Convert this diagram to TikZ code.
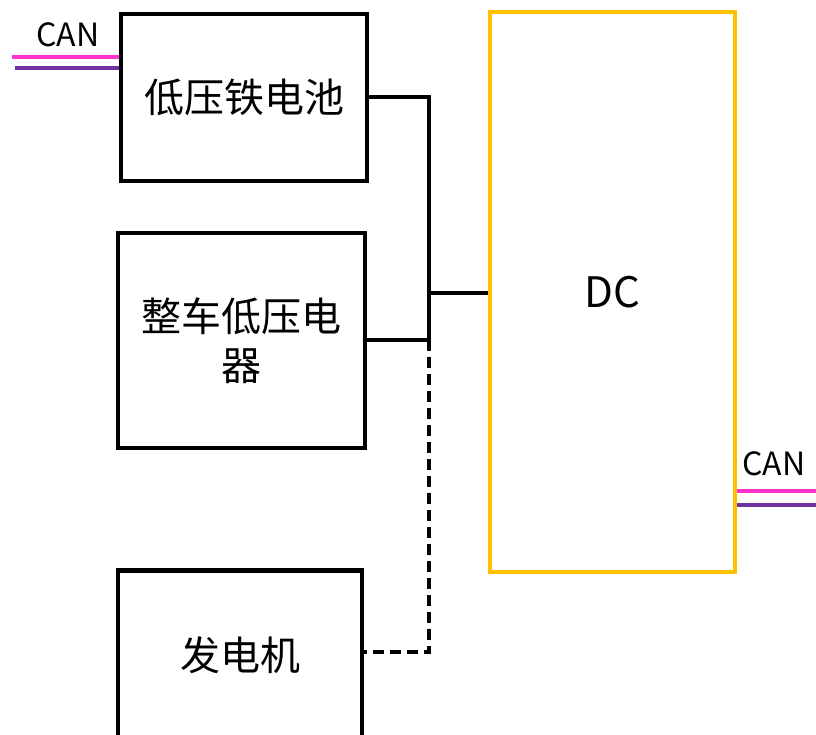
\documentclass[tikz,border=0pt]{standalone}
\usepackage{fontspec}
\setmainfont{Noto Sans CJK SC}
\begin{document}
\begin{tikzpicture}[x=1pt,y=-1pt,
  cjk/.style={font=\fontsize{40}{49}\selectfont},
  blk/.style={draw=black,line width=4.5pt,minimum width=#1,inner sep=0pt,align=center,cjk},
  wire/.style={line width=4pt},
  dwire/.style={line width=4pt,dash pattern=on 11pt off 6pt},
  canp/.style={line width=4pt,draw={rgb,255:red,255;green,51;blue,204}},
  canv/.style={line width=4pt,draw={rgb,255:red,112;green,48;blue,160}},
  lbl/.style={font=\fontsize{32}{34}\selectfont,inner sep=0pt}]
\useasboundingbox (0,0) rectangle (816,734);
\clip (0,0) rectangle (816,734);
% boxes
\node[blk=246pt,minimum height=167pt] (bat) at (244,97.5) {低压铁电池};
\node[blk=247pt,minimum height=215pt] (load) at (241.5,340.5) {整车低压电\\器};
\node[blk=244pt,minimum height=176pt,anchor=north] (gen) at (240,568) {};
\node[cjk] at (240,655) {发电机};
\node[draw={rgb,255:red,255;green,192;blue,0},line width=4.5pt,minimum width=245pt,minimum height=560pt,inner sep=0pt,font=\fontsize{42}{46}\selectfont] (dc) at (612.5,292) {DC};
% bus
\coordinate (j1) at (429,97);
\coordinate (j2) at (429,293);
\coordinate (j3) at (429,340);
\coordinate (j4) at (429,652);
\draw[wire] (bat.east |- j1) -- (j1) -- (j3);
\draw[wire] (load.east |- j3) -- (j3);
\draw[wire] (j2) -- (dc.west |- j2);
\draw[dwire] (j3) -- (j4) -- (gen.east |- j4);
% CAN left
\node[lbl] (canl) at (68,35) {CAN};
\coordinate (cl1) at (12,57);
\coordinate (cl2) at (15,68);
\draw[canp] (cl1) -- (bat.west |- cl1);
\draw[canv] (cl2) -- (bat.west |- cl2);
% CAN right
\node[lbl] (canr) at (774,464) {CAN};
\coordinate (cr1) at (816,491);
\coordinate (cr2) at (816,505);
\draw[canp] (dc.east |- cr1) -- (cr1);
\draw[canv] (dc.east |- cr2) -- (cr2);
\end{tikzpicture}
\end{document}
